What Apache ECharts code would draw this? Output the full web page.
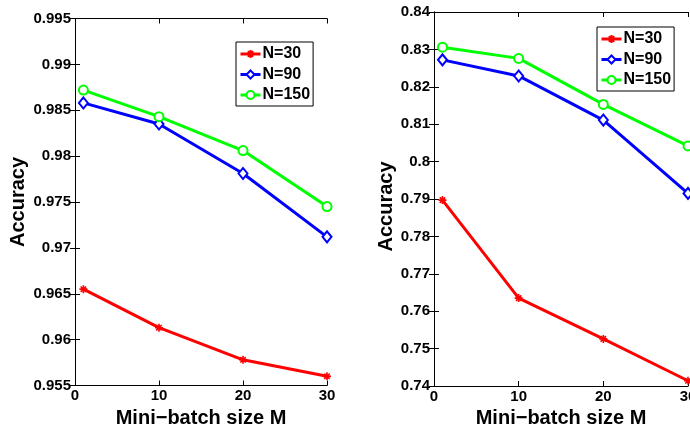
<!DOCTYPE html>
<html>
<head>
<meta charset="utf-8">
<script src="https://cdn.jsdelivr.net/npm/echarts@6/dist/echarts.min.js"></script>
<style>
  html, body { margin: 0; padding: 0; background: #fff; }
  #chart { width: 690px; height: 426px; }
</style>
</head>
<body>
<div id="chart"></div>
<script>
// Mini-batch sizes on the x axis
const batchSizes = [1, 10, 20, 30];
const seriesNames = ['N=30', 'N=90', 'N=150'];

// Left panel: accuracy per mini-batch size
const leftN30  = [0.9655, 0.9613, 0.9578, 0.9560];
const leftN90  = [0.9858, 0.9835, 0.9781, 0.9712];
const leftN150 = [0.9872, 0.9843, 0.9806, 0.9745];

// Right panel: accuracy per mini-batch size
const rightN30  = [0.7897, 0.7635, 0.7526, 0.7414];
const rightN90  = [0.8272, 0.8229, 0.8111, 0.7915];
const rightN150 = [0.8306, 0.8276, 0.8153, 0.8042];

// Axis ranges
const xRange = { min: 0, max: 30, interval: 10 };
const leftY  = { min: 0.955, max: 0.995, interval: 0.005, digits: 3 };
const rightY = { min: 0.74,  max: 0.84,  interval: 0.01,  digits: 2 };

const FONT = 'Liberation Sans, Arial, sans-serif';
const colors = ['#ff0000', '#0000ff', '#00ff00'];
const asterisk = 'path://M0,5L10,5M5,0L5,10M1.6,1.6L8.4,8.4M8.4,1.6L1.6,8.4';

const pair = (ys) => batchSizes.map((x, i) => [x, ys[i]]);

function makeSeries(values, xIdx, yIdx) {
  const marks = [
    { symbol: asterisk, symbolSize: 8, itemStyle: { color: colors[0], borderColor: colors[0], borderWidth: 1.6 } },
    { symbol: 'emptyDiamond', symbolSize: [9, 11], itemStyle: { color: colors[1], borderColor: colors[1], borderWidth: 2 } },
    { symbol: 'emptyCircle', symbolSize: 9, itemStyle: { color: colors[2], borderColor: colors[2], borderWidth: 2 } }
  ];
  return values.map((v, i) => Object.assign({
    name: seriesNames[i],
    type: 'line',
    xAxisIndex: xIdx,
    yAxisIndex: yIdx,
    data: pair(v),
    showAllSymbol: true,
    lineStyle: { color: colors[i], width: 3 },
    emphasis: { disabled: true },
    animation: false
  }, marks[i]));
}

function xAxes(grid, bottomName) {
  const common = {
    type: 'value', gridIndex: grid,
    min: xRange.min, max: xRange.max, interval: xRange.interval,
    axisLine: { show: true, lineStyle: { color: '#000', width: 1 } },
    axisTick: { show: true, inside: true, length: 5, lineStyle: { color: '#000' } },
    splitLine: { show: false }
  };
  return [
    Object.assign({}, common, {
      position: 'bottom',
      axisLabel: { color: '#000', fontFamily: FONT, fontWeight: 'bold', fontSize: 15, margin: 3 },
      name: bottomName, nameLocation: 'middle', nameGap: 20,
      nameTextStyle: { color: '#000', fontFamily: FONT, fontWeight: 'bold', fontSize: 20 }
    }),
    Object.assign({}, common, { position: 'top', axisLabel: { show: false } })
  ];
}

function yAxes(grid, r, nameGap, namePad) {
  const common = {
    type: 'value', gridIndex: grid,
    min: r.min, max: r.max, interval: r.interval,
    axisLine: { show: true, lineStyle: { color: '#000', width: 1 } },
    axisTick: { show: true, inside: true, length: 5, lineStyle: { color: '#000' } },
    splitLine: { show: false }
  };
  return [
    Object.assign({}, common, {
      position: 'left',
      axisLabel: {
        color: '#000', fontFamily: FONT, fontWeight: 'bold', fontSize: 15, margin: 4,
        formatter: (v) => String(+v.toFixed(r.digits))
      },
      name: 'Accuracy', nameLocation: 'middle', nameGap: nameGap,
      nameTextStyle: { color: '#000', fontFamily: FONT, fontWeight: 'bold', fontSize: 20, padding: namePad }
    }),
    Object.assign({}, common, { position: 'right', axisLabel: { show: false } })
  ];
}

function legendAt(left, top) {
  return {
    orient: 'vertical', left: left, top: top,
    data: seriesNames,
    backgroundColor: '#fff',
    borderColor: '#000', borderWidth: 1, borderRadius: 0,
    padding: [4, 3, 3, 3],
    itemWidth: 20, itemHeight: 10, itemGap: 4.5,
    lineStyle: { width: 3 },
    selectedMode: false,
    textStyle: { color: '#000', fontFamily: FONT, fontWeight: 'bold', fontSize: 16, lineHeight: 16, padding: [0, 0, 0, -3] }
  };
}

const chart = echarts.init(document.getElementById('chart'), null, { renderer: 'canvas' });
chart.setOption({
  animation: false,
  backgroundColor: '#fff',
  grid: [
    { left: 75, top: 18.5, width: 252, height: 367, containLabel: false, outerBoundsMode: 'none' },
    { left: 434, top: 12, width: 254, height: 374, containLabel: false, outerBoundsMode: 'none' }
  ],
  xAxis: [].concat(xAxes(0, 'Mini\u2212batch size M'), xAxes(1, 'Mini\u2212batch size M')),
  yAxis: [].concat(yAxes(0, leftY, 47, 0), yAxes(1, rightY, 35, [0, 15, 0, 0])),
  legend: [legendAt(236, 42), legendAt(597, 27)],
  series: [].concat(
    makeSeries([leftN30, leftN90, leftN150], 0, 0),
    makeSeries([rightN30, rightN90, rightN150], 2, 2)
  )
});
</script>
</body>
</html>
